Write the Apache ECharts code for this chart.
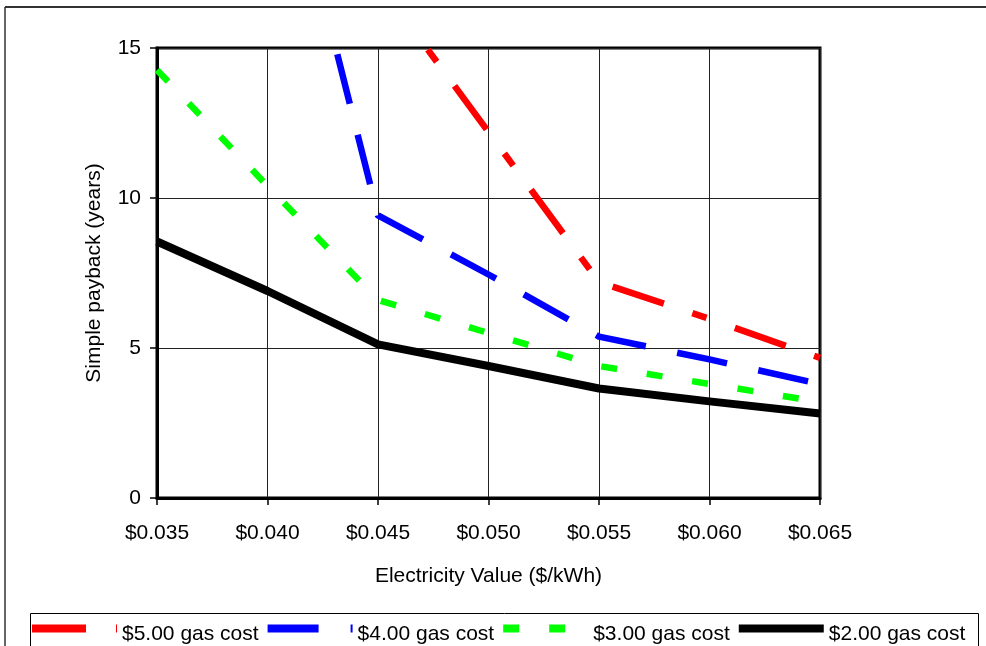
<!DOCTYPE html>
<html>
<head>
<meta charset="utf-8">
<title>Simple payback vs electricity value</title>
<script src="https://cdn.jsdelivr.net/npm/echarts@6/dist/echarts.min.js"></script>
<style>
  html, body { margin: 0; padding: 0; background: #fff; }
  #chart { width: 986px; height: 646px; }
</style>
</head>
<body>
<div id="chart"></div>
<script>
// Electricity value categories ($/kWh)
const electricityValues = ['$0.035', '$0.040', '$0.045', '$0.050', '$0.055', '$0.060', '$0.065'];

// Simple payback (years) for each gas cost
const payback5 = [null, null, 17.2, 12.2, 7.2, 5.97, 4.67];
const payback4 = [null, 24, 9.42, 7.45, 5.38, 4.62, 3.8];
const payback3 = [14.27, 10.4, 6.6, 5.5, 4.4, 3.8, 3.2];
const payback2 = [8.55, 6.9, 5.12, 4.4, 3.65, 3.22, 2.82];

const seriesNames = ['$5.00 gas cost', '$4.00 gas cost', '$3.00 gas cost', '$2.00 gas cost'];
const yTicks = [0, 5, 10, 15];

const FONT = 'Liberation Sans, Arial, sans-serif';

const chart = echarts.init(document.getElementById('chart'), null, { renderer: 'canvas' });

function lineSeries(name, data, color, width, dash, offset) {
  return {
    name: name,
    type: 'line',
    data: data,
    symbol: 'none',
    clip: true,
    animation: false,
    lineStyle: {
      color: color,
      width: width,
      type: dash,
      dashOffset: offset || 0,
      cap: 'butt',
      join: 'round'
    },
    itemStyle: { color: color }
  };
}

chart.setOption({
  backgroundColor: '#ffffff',
  animation: false,
  textStyle: { fontFamily: FONT },
  grid: {
    left: 157, top: 48, right: 166, bottom: 148,
    show: true,
    borderColor: '#000',
    borderWidth: 3,
    backgroundColor: 'transparent'
  },
  legend: {
    data: seriesNames,
    left: 28,
    top: 623,
    padding: 0,
    itemWidth: 85,
    itemHeight: 14,
    itemGap: 5,
    selectedMode: false,
    itemStyle: { opacity: 0 },
    lineStyle: { width: 8, dashOffset: 0 },
    // text sits a little lower than the sample line
    formatter: '{t|{name}}',
    textStyle: {
      fontFamily: FONT,
      fontSize: 21,
      color: '#000',
      rich: {
        t: { fontFamily: FONT, fontSize: 21, color: '#000', lineHeight: 33, verticalAlign: 'bottom' }
      }
    }
  },
  xAxis: {
    type: 'category',
    data: electricityValues,
    boundaryGap: false,
    name: 'Electricity Value ($/kWh)',
    nameLocation: 'middle',
    nameGap: 68,
    nameTextStyle: { fontFamily: FONT, fontSize: 21, color: '#000' },
    axisLine: { show: true, lineStyle: { color: '#000', width: 3 } },
    axisTick: { show: true, length: 7, inside: false, lineStyle: { color: '#000', width: 1.5 } },
    axisLabel: { fontFamily: FONT, fontSize: 21, color: '#000', margin: 25 },
    splitLine: { show: true, lineStyle: { color: '#222', width: 1 } }
  },
  yAxis: {
    type: 'value',
    min: yTicks[0],
    max: yTicks[yTicks.length - 1],
    interval: 5,
    name: 'Simple payback (years)',
    nameLocation: 'middle',
    nameRotate: 90,
    nameGap: 52,
    nameTextStyle: { fontFamily: FONT, fontSize: 21, color: '#000' },
    axisLine: { show: true, lineStyle: { color: '#000', width: 3 } },
    axisTick: { show: true, length: 7, inside: false, lineStyle: { color: '#000', width: 1.5 } },
    axisLabel: { fontFamily: FONT, fontSize: 21, color: '#000', margin: 16 },
    splitLine: { show: true, lineStyle: { color: '#222', width: 1 } }
  },
  graphic: [
    // outer frame (top and left edges)
    { type: 'line', shape: { x1: 5, y1: 7, x2: 986, y2: 7 }, style: { stroke: '#333', lineWidth: 2 }, silent: true },
    { type: 'line', shape: { x1: 5, y1: 7, x2: 5, y2: 646 }, style: { stroke: '#333', lineWidth: 1.5 }, silent: true },
    // legend box
    { type: 'rect', shape: { x: 30.5, y: 613.5, width: 948, height: 60 }, style: { fill: 'none', stroke: '#000', lineWidth: 1 }, silent: true, z: -1 }
  ],
  series: [
    lineSeries(seriesNames[0], payback5, '#ff0000', 6.5, [54, 30, 15, 30], 0),
    lineSeries(seriesNames[1], payback4, '#0000ff', 6.5, [51, 32], 47),
    lineSeries(seriesNames[2], payback3, '#00ff00', 6.5, [16, 30], 0),
    lineSeries(seriesNames[3], payback2, '#000000', 8, 'solid', 0)
  ]
});
</script>
</body>
</html>
